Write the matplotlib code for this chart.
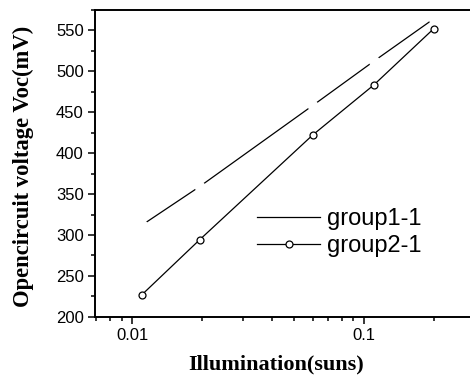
import matplotlib
matplotlib.use("Agg")
import matplotlib.pyplot as plt
from matplotlib.lines import Line2D
from matplotlib.ticker import LogLocator, MultipleLocator, FixedLocator, FixedFormatter

illum = [0.011, 0.0195, 0.06, 0.11, 0.2]
group1 = [312, 359, 458, 512, 564]
group2 = [227, 294, 422, 483, 552]
x_ticks = [0.01, 0.1]
x_tick_labels = ["0.01", "0.1"]
y_ticks = [200, 250, 300, 350, 400, 450, 500, 550]

fig = plt.figure(figsize=(4.7, 3.75), dpi=100)
ax = fig.add_axes([0.202, 0.155, 0.805, 0.819])

ax.plot(illum, group1, color="black", lw=0.9, zorder=2)
ax.plot(illum, group1, ls="none", marker="o", ms=7, mfc="white", mec="white", zorder=3)
ax.plot(illum, group2, color="black", lw=0.9, marker="o", ms=5, mfc="white",
        mec="black", mew=0.9, zorder=4)

ax.set_xscale("log")
ax.set_xlim(0.0069, 0.296)
ax.set_ylim(200, 575)
ax.xaxis.set_major_locator(FixedLocator(x_ticks))
ax.xaxis.set_major_formatter(FixedFormatter(x_tick_labels))
ax.xaxis.set_minor_locator(LogLocator(base=10, subs=range(2, 10)))
ax.yaxis.set_major_locator(FixedLocator(y_ticks))
ax.yaxis.set_minor_locator(MultipleLocator(25))

ax.tick_params(which="both", direction="out", top=False, right=False,
               labelsize=12, width=1.1)
ax.tick_params(which="major", length=5, pad=3)
ax.tick_params(which="minor", length=3)
for lab in ax.get_xticklabels() + ax.get_yticklabels():
    lab.set_family("Liberation Sans")
for s in ax.spines.values():
    s.set_linewidth(1.4)

ax.set_xlabel("Illumination(suns)", family="Liberation Serif", fontweight="bold",
              fontsize=16, labelpad=8.5)
ax.xaxis.label.set_x(0.478)
ax.set_ylabel("Opencircuit voltage Voc(mV)", family="Liberation Serif",
              fontweight="bold", fontsize=16.3, labelpad=16)
ax.yaxis.label.set_y(0.49)

h1 = Line2D([], [], color="black", lw=0.9)
h2 = Line2D([], [], color="black", lw=0.9, marker="o", ms=5, mfc="white",
            mec="black", mew=0.9)
leg = ax.legend([h1, h2], ["group1-1", "group2-1"], loc="upper left",
                bbox_to_anchor=(0.39, 0.40), frameon=False, handlelength=2.7,
                handletextpad=0.3, labelspacing=0.2, borderaxespad=0.2,
                prop={"family": "Liberation Sans", "size": 17})

fig.savefig("out.png", dpi=100)
